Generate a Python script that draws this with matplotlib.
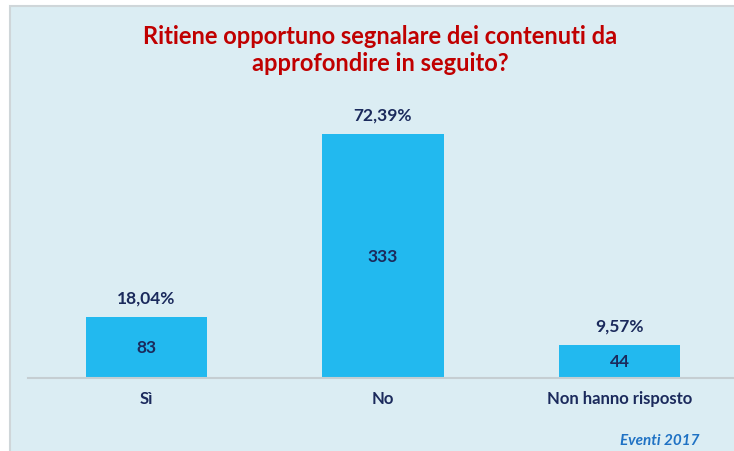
import matplotlib.pyplot as plt
from matplotlib.patches import Rectangle

categories = ["Sì", "No", "Non hanno risposto"]
counts = [83, 333, 44]
percent_labels = ["18,04%", "72,39%", "9,57%"]

title = "Ritiene opportuno segnalare dei contenuti da\napprofondire in seguito?"
footer = "Eventi 2017"

W, H = 734, 452
bg = "#dbedf3"
bar_color = "#22b9ef"
navy = "#1b2a5c"

plt.rcParams["font.family"] = ["Lato", "DejaVu Sans"]

fig = plt.figure(figsize=(W / 100, H / 100), dpi=100, facecolor="white")

# light blue panel with a thin grey edge on the left and top
panel = Rectangle((10 / W, -0.01), (W - 10) / W + 0.01, (H - 7) / H + 0.01,
                  transform=fig.transFigure, facecolor=bg,
                  edgecolor="#cfd6d9", linewidth=1.5, zorder=-5)
fig.add_artist(panel)

ax = fig.add_axes([28 / W, 1 - 378.5 / H, 710 / W, 278.5 / H])
ax.set_facecolor("none")
ax.set_zorder(1)
x = list(range(len(categories)))
bars = ax.bar(x, counts, width=0.513, color=bar_color, zorder=2)
ax.set_xlim(-0.5, 2.5)
ax.set_ylim(0, 381.5)

for rect, n, pct in zip(bars, counts, percent_labels):
    cx = rect.get_x() + rect.get_width() / 2
    ax.text(cx, n / 2, str(n), ha="center", va="center",
            fontsize=12.5, fontweight="bold", color=navy, zorder=3)
    ax.annotate(pct, (cx, n), xytext=(0, 8.5), textcoords="offset points",
                ha="center", va="bottom", fontsize=12.5, fontweight="bold",
                color=navy)

for s in ["top", "right", "left"]:
    ax.spines[s].set_visible(False)
ax.spines["bottom"].set_color("#c5ced2")
ax.spines["bottom"].set_linewidth(1.5)
ax.set_yticks([])
ax.set_xticks(x)
ax.set_xticklabels(categories, fontsize=12, fontweight="bold", color=navy)
ax.tick_params(axis="x", length=0, pad=9)

fig.text(380 / W, 1 - 50 / H, title, ha="center", va="center",
         fontsize=17, fontweight="bold", color="#c00000", linespacing=1.2)
fig.text(699 / W, 1 - 441 / H, footer, ha="right", va="center",
         fontsize=11, fontweight="bold", fontstyle="italic", color="#1f72c4")

fig.savefig("out.png", dpi=100, facecolor="white")
